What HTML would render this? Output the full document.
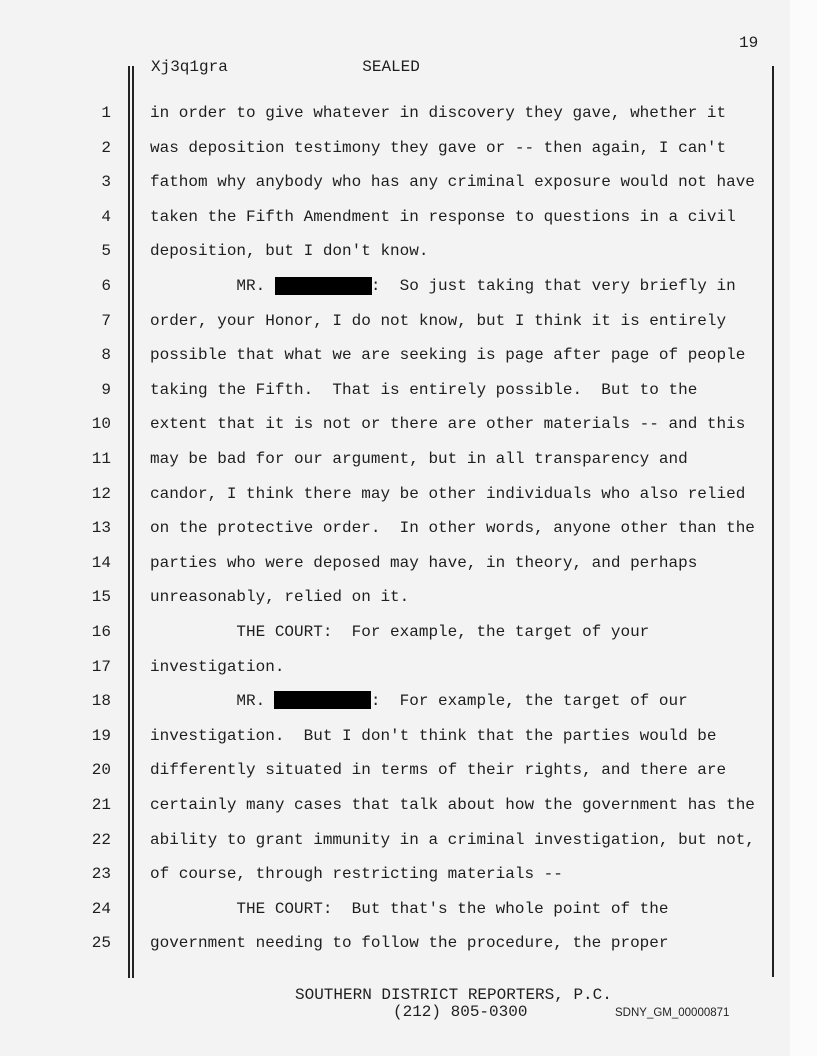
<!DOCTYPE html>
<html><head><meta charset="utf-8"><style>
html,body{margin:0;padding:0;}
body{width:817px;height:1056px;position:relative;background:#f3f3f3;overflow:hidden;font-family:"Liberation Mono",monospace;color:#1e1e1e;}
.t{position:absolute;left:150px;font-size:16px;line-height:20px;white-space:pre;}
.n{position:absolute;left:60px;width:51px;text-align:right;font-size:16px;line-height:20px;}
.v{position:absolute;background:#222;}
.box{position:absolute;background:#000;}
</style></head><body>
<div style="position:absolute;left:790px;top:0;width:27px;height:1056px;background:#fbfbfb"></div>
<div class="t" style="left:739px;top:33px">19</div>
<div class="t" style="left:151px;top:57px">Xj3q1gra              SEALED</div>
<div class="v" style="left:128px;top:66px;width:1.6px;height:912px"></div>
<div class="v" style="left:132px;top:66px;width:1.6px;height:912px"></div>
<div class="v" style="left:772px;top:66px;width:1.6px;height:911px"></div>

<div class="n" style="top:103px">1</div><div class="t" style="top:103px">in order to give whatever in discovery they gave, whether it</div>
<div class="n" style="top:137.6px">2</div><div class="t" style="top:137.6px">was deposition testimony they gave or -- then again, I can't</div>
<div class="n" style="top:172.2px">3</div><div class="t" style="top:172.2px">fathom why anybody who has any criminal exposure would not have</div>
<div class="n" style="top:206.8px">4</div><div class="t" style="top:206.8px">taken the Fifth Amendment in response to questions in a civil</div>
<div class="n" style="top:241.4px">5</div><div class="t" style="top:241.4px">deposition, but I don't know.</div>
<div class="n" style="top:276px">6</div><div class="t" style="top:276px">         MR.           :  So just taking that very briefly in</div>
<div class="box" style="left:275px;top:277px;width:97px;height:18px"></div>
<div class="n" style="top:310.6px">7</div><div class="t" style="top:310.6px">order, your Honor, I do not know, but I think it is entirely</div>
<div class="n" style="top:345.2px">8</div><div class="t" style="top:345.2px">possible that what we are seeking is page after page of people</div>
<div class="n" style="top:379.8px">9</div><div class="t" style="top:379.8px">taking the Fifth.  That is entirely possible.  But to the</div>
<div class="n" style="top:414.4px">10</div><div class="t" style="top:414.4px">extent that it is not or there are other materials -- and this</div>
<div class="n" style="top:449px">11</div><div class="t" style="top:449px">may be bad for our argument, but in all transparency and</div>
<div class="n" style="top:483.6px">12</div><div class="t" style="top:483.6px">candor, I think there may be other individuals who also relied</div>
<div class="n" style="top:518.2px">13</div><div class="t" style="top:518.2px">on the protective order.  In other words, anyone other than the</div>
<div class="n" style="top:552.8px">14</div><div class="t" style="top:552.8px">parties who were deposed may have, in theory, and perhaps</div>
<div class="n" style="top:587.4px">15</div><div class="t" style="top:587.4px">unreasonably, relied on it.</div>
<div class="n" style="top:622px">16</div><div class="t" style="top:622px">         THE COURT:  For example, the target of your</div>
<div class="n" style="top:656.6px">17</div><div class="t" style="top:656.6px">investigation.</div>
<div class="n" style="top:691.2px">18</div><div class="t" style="top:691.2px">         MR.           :  For example, the target of our</div>
<div class="box" style="left:274px;top:691px;width:97px;height:18px"></div>
<div class="n" style="top:725.8px">19</div><div class="t" style="top:725.8px">investigation.  But I don't think that the parties would be</div>
<div class="n" style="top:760.4px">20</div><div class="t" style="top:760.4px">differently situated in terms of their rights, and there are</div>
<div class="n" style="top:795px">21</div><div class="t" style="top:795px">certainly many cases that talk about how the government has the</div>
<div class="n" style="top:829.6px">22</div><div class="t" style="top:829.6px">ability to grant immunity in a criminal investigation, but not,</div>
<div class="n" style="top:864.2px">23</div><div class="t" style="top:864.2px">of course, through restricting materials --</div>
<div class="n" style="top:898.8px">24</div><div class="t" style="top:898.8px">         THE COURT:  But that's the whole point of the</div>
<div class="n" style="top:933.4px">25</div><div class="t" style="top:933.4px">government needing to follow the procedure, the proper</div>

<div class="t" style="left:295px;top:985px">SOUTHERN DISTRICT REPORTERS, P.C.</div>
<div class="t" style="left:393px;top:1002px">(212) 805-0300</div>
<div style="position:absolute;left:615px;top:1006px;font-family:'Liberation Sans',sans-serif;font-size:11.5px;line-height:14px;color:#222">SDNY_GM_00000871</div>
</body></html>
